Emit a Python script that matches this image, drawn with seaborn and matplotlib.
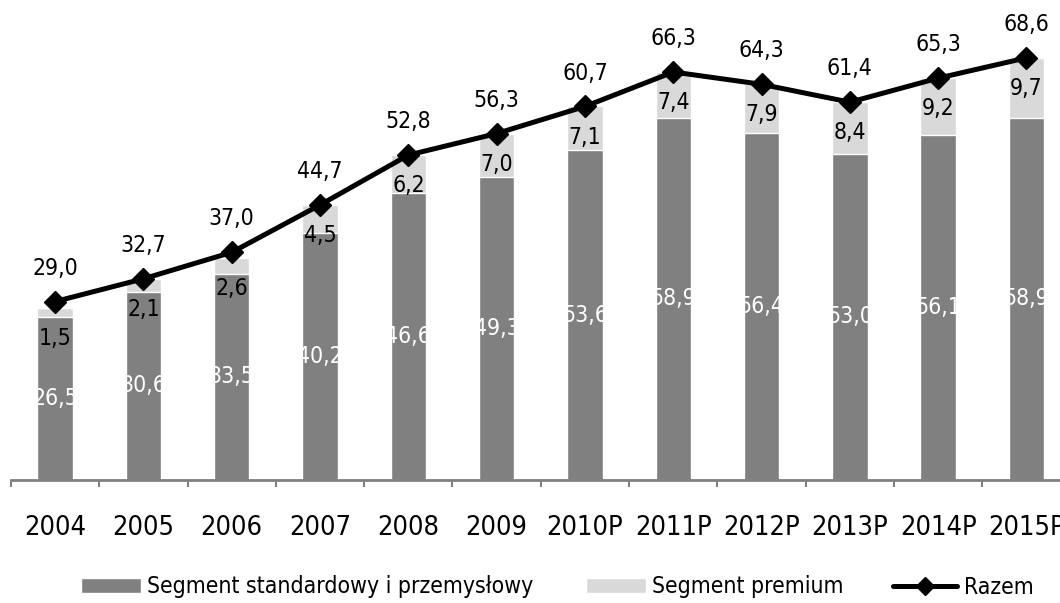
import numpy as np
import pandas as pd
import seaborn as sns
import matplotlib.pyplot as plt
from matplotlib import font_manager
from matplotlib.font_manager import FontProperties
from matplotlib.patches import Patch
from matplotlib.lines import Line2D

# dane
lata = ["2004", "2005", "2006", "2007", "2008", "2009",
        "2010P", "2011P", "2012P", "2013P", "2014P", "2015P"]
standard = [26.5, 30.6, 33.5, 40.2, 46.6, 49.3, 53.6, 58.9, 56.4, 53.0, 56.1, 58.9]
premium = [1.5, 2.1, 2.6, 4.5, 6.2, 7.0, 7.1, 7.4, 7.9, 8.4, 9.2, 9.7]
razem = [29.0, 32.7, 37.0, 44.7, 52.8, 56.3, 60.7, 66.3, 64.3, 61.4, 65.3, 68.6]

df = pd.DataFrame({"rok": lata, "standard": standard, "premium": premium, "razem": razem})
df["stos"] = df["standard"] + df["premium"]

sns.set_style("white")
plt.rcParams["text.color"] = "black"
plt.rcParams["xtick.color"] = "black"

# szukamy waskiej czcionki bezszeryfowej
narrow = None
for f in font_manager.fontManager.ttflist:
    n = f.name.lower()
    fn = f.fname.lower()
    if ("narrow" in n or "condensed" in n or "condensed" in fn or "narrow" in fn) \
            and "bold" not in fn and "italic" not in fn and "oblique" not in fn \
            and "mono" not in fn and "serif" not in n.replace("sans", "") \
            and "light" not in fn:
        narrow = f.fname
        break
if narrow:
    FP = lambda s: FontProperties(fname=narrow, size=s)
else:
    FP = lambda s: FontProperties(family="Liberation Sans", size=s)

def pl(v):
    return f"{v:.1f}".replace(".", ",")

fig = plt.figure(figsize=(10.6, 6.03), dpi=100)
ax = fig.add_axes([11 / 1060, 1 - 480 / 603, 12 * 88.3 / 1060, 480 / 603])

sns.barplot(data=df, x="rok", y="stos", color="#d9d9d9", width=0.4,
            saturation=1, ax=ax, zorder=1)
sns.barplot(data=df, x="rok", y="standard", color="#808080", width=0.4,
            saturation=1, ax=ax, zorder=2)
x = np.arange(len(lata))
ax.plot(x, df["razem"], color="black", lw=3.6, marker="D", ms=11, zorder=4)

fs = 16.5
for i, r in df.iterrows():
    ax.text(i, r["standard"] / 2, pl(r["standard"]), color="white",
            ha="center", va="center", fontproperties=FP(fs), zorder=3)
    ax.annotate(pl(r["premium"]), (i, r["stos"]), xytext=(0, -22),
                textcoords="offset points", ha="center", va="center",
                fontproperties=FP(fs), color="black", zorder=3)
    ax.annotate(pl(r["razem"]), (i, r["razem"]), xytext=(0, 24),
                textcoords="offset points", ha="center", va="center",
                fontproperties=FP(fs), color="black", zorder=5)

ax.set_xlim(-0.5, len(lata) - 0.5)
ax.set_ylim(0, 78)
ax.set_xlabel("")
ax.set_ylabel("")
ax.set_yticks([])
ax.set_xticks(np.arange(len(lata) + 1) - 0.5)
ax.set_xticklabels([])
ax.set_xticks(x, minor=True)
ax.set_xticklabels(lata, minor=True)
for t in ax.get_xticklabels(minor=True):
    t.set_fontproperties(FP(19.5))
    t.set_color("black")
ax.tick_params(axis="x", which="major", bottom=True, length=5, width=1.5,
               color="#808080", direction="out")
ax.tick_params(axis="x", which="minor", bottom=True, length=0, pad=25)
for s in ["top", "right", "left"]:
    ax.spines[s].set_visible(False)
ax.spines["bottom"].set_color("#808080")
ax.spines["bottom"].set_linewidth(2)

# legenda - trzy osobne elementy
items = [
    (Patch(facecolor="#808080"), "Segment standardowy i przemysłowy", 81 / 1060, 2.6),
    (Patch(facecolor="#d9d9d9"), "Segment premium", 586 / 1060, 2.6),
    (Line2D([], [], color="black", lw=3.6, marker="D", ms=9), "Razem", 893 / 1060, 2.8),
]
for h, lab, lx, hl in items:
    fig.legend(handles=[h], labels=[lab], loc="center left",
               bbox_to_anchor=(lx, 1 - 587 / 603), frameon=False,
               prop=FP(16.5), handlelength=hl, handleheight=0.65,
               handletextpad=0.3, borderpad=0, borderaxespad=0)

fig.savefig("out.png", dpi=100)
